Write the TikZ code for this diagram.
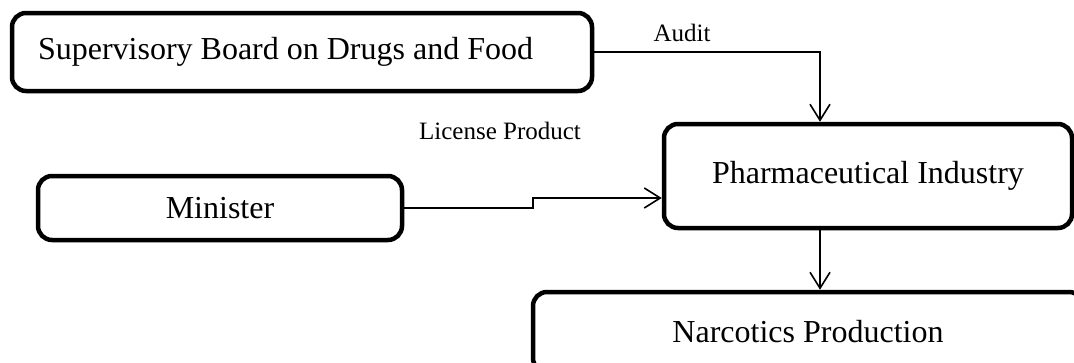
\documentclass[tikz,border=0pt]{standalone}
\usepackage{fontspec}
\setmainfont{Liberation Serif}
\usetikzlibrary{arrows.meta}
\begin{document}
\begin{tikzpicture}[x=1pt, y=-1pt, >={Straight Barb[length=16pt,width=20pt]},
  box/.style={draw, line width=4.5pt, rounded corners=14pt, inner sep=0pt, font=\fontsize{32}{38}\selectfont},
  lab/.style={font=\fontsize{25}{30}\selectfont},
  link/.style={->, line width=1.6pt}]
\useasboundingbox (0,0) rectangle (1074,362);
\clip (0,0) rectangle (1074,362);
\node[box, minimum width=580pt, minimum height=78pt, text width=528pt, inner xsep=26pt, align=flush left] (sup) at (302,52) {Supervisory Board on Drugs and Food};
\node[box, minimum width=364pt, minimum height=64pt] (min) at (220,208) {Minister};
\node[box, minimum width=408pt, minimum height=104pt] (pharma) at (868,176) {Pharmaceutical Industry};
\node[box, minimum width=550pt, minimum height=80pt] (narc) at (808,332) {Narcotics Production};
\coordinate (drop) at (820,0);
\coordinate (step) at (533,198);
\draw[link] (sup.east) -| (drop |- pharma.north);
\draw[link] (min.east) -| (step) -- (step -| pharma.west);
\draw[link] (drop |- pharma.south) -- (drop |- narc.north);

\node[lab, anchor=base] (audit) at (682,41) {Audit};
\node[lab, anchor=base] (lic) at (500,139) {License Product};
\end{tikzpicture}
\end{document}
